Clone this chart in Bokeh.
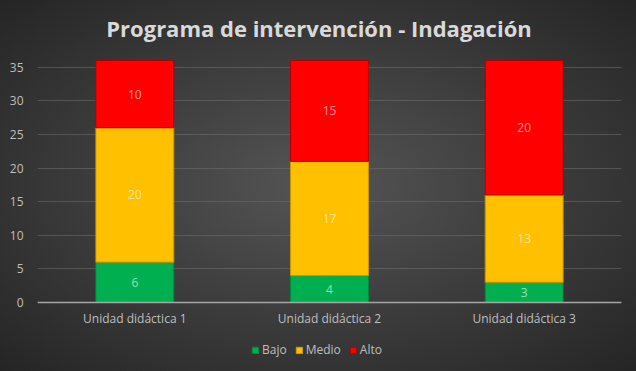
from bokeh.plotting import figure
from bokeh.models import ColumnDataSource, Legend, LegendItem, LabelSet, Label
from bokeh.core.properties import value
from bokeh.embed import file_html
from bokeh.resources import INLINE

# Data
titulo = "Programa de intervención - Indagación"
unidades = ["Unidad didáctica 1", "Unidad didáctica 2", "Unidad didáctica 3"]
niveles = ["Bajo", "Medio", "Alto"]
bajo = [6, 4, 3]
medio = [20, 17, 13]
alto = [10, 15, 20]
y_ticks = [0, 5, 10, 15, 20, 25, 30, 35]

fill_colors = ["#00B050", "#FFC000", "#FF0000"]
edge_colors = ["#008a3e", "#c99700", "#b00000"]

src = ColumnDataSource(data=dict(
    unidad=unidades,
    Bajo=bajo,
    Medio=medio,
    Alto=alto,
))

# the frame fills the canvas vertically: the title sits in its top band,
# the category labels and legend in its bottom band under an x axis at zero
p = figure(
    x_range=unidades,
    y_range=(-10.27, 44.93),
    width=636,
    height=371,
    output_backend="svg",
    toolbar_location=None,
    min_border_left=37,
    min_border_right=15,
    min_border_top=0,
    min_border_bottom=0,
)

# dark radial backdrop behind a transparent canvas
p.styles = {"background": "radial-gradient(ellipse at center, #555555 0%, #3a3a3a 55%, #252525 100%)"}
p.border_fill_color = None
p.background_fill_color = None
p.outline_line_color = None

p.add_layout(Label(
    x=281.5, y=344, x_units="screen", y_units="screen",
    text=titulo, text_align="center", text_baseline="middle",
    text_font="Open Sans", text_font_size="22px", text_font_style="bold",
    text_color="#d9d9d9",
))

renderers = p.vbar_stack(
    niveles,
    x="unidad",
    width=0.4,
    source=src,
    fill_color=fill_colors,
    line_color=edge_colors,
    line_width=1,
)

# value labels at the middle of each segment
bottoms = [0, 0, 0]
for name, vals in zip(niveles, [bajo, medio, alto]):
    mids = [b + v / 2 for b, v in zip(bottoms, vals)]
    lsrc = ColumnDataSource(data=dict(x=unidades, y=mids, t=[str(v) for v in vals]))
    p.add_layout(LabelSet(
        x="x", y="y", text="t", source=lsrc,
        text_align="center", text_baseline="middle",
        text_font=value("Open Sans"), text_font_size=value("12px"),
        text_color="#ffffff", text_alpha=0.6,
    ))
    bottoms = [b + v for b, v in zip(bottoms, vals)]

# axes
p.yaxis.ticker = y_ticks
p.yaxis.axis_line_color = None
p.yaxis.major_tick_line_color = None
p.yaxis.minor_tick_line_color = None
p.yaxis.major_label_standoff = 8
p.yaxis.major_label_text_font = "Open Sans"
p.yaxis.major_label_text_font_size = "12px"
p.yaxis.major_label_text_color = "#bfbfbf"

p.xaxis.fixed_location = 0
p.xaxis.axis_line_color = "#a6a6a6"
p.xaxis.axis_line_width = 1.5
p.xaxis.major_tick_line_color = None
p.xaxis.minor_tick_line_color = None
p.xaxis.major_label_standoff = 2
p.xaxis.major_label_text_font = "Open Sans"
p.xaxis.major_label_text_font_size = "12px"
p.xaxis.major_label_text_color = "#bfbfbf"

p.xgrid.grid_line_color = None
p.ygrid.grid_line_color = "#6a6a6a"
p.ygrid.grid_line_alpha = 0.6
p.x_range.range_padding = 0

legend = Legend(
    items=[LegendItem(label=n, renderers=[r]) for n, r in zip(niveles, renderers)],
    orientation="horizontal",
    location=(214, 13),
    background_fill_alpha=0,
    border_line_color=None,
    label_text_font="Open Sans",
    label_text_font_size="12px",
    label_text_color="#bfbfbf",
    glyph_width=8,
    glyph_height=8,
    spacing=8,
    label_standoff=3,
    padding=2,
    margin=0,
)
p.add_layout(legend, "center")

open("out.html", "w").write(file_html(p, INLINE))
